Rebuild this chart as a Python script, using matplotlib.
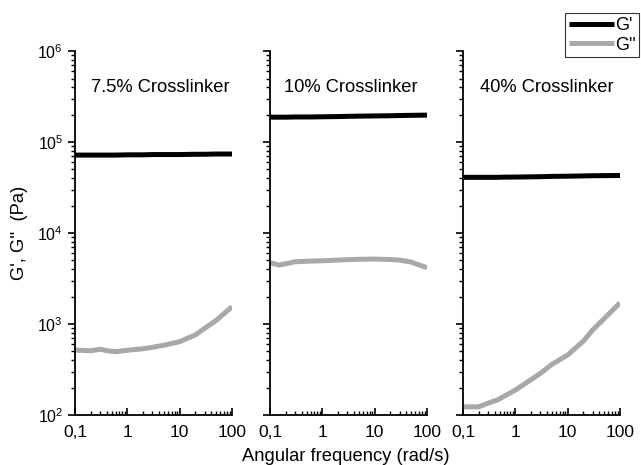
import matplotlib
matplotlib.use("Agg")
import matplotlib.pyplot as plt
from matplotlib.ticker import FixedLocator, FixedFormatter, LogLocator, NullFormatter

plt.rcParams['font.family'] = ['Liberation Sans', 'DejaVu Sans']

# angular frequency (rad/s)
freq = [0.1, 0.15, 0.2, 0.3, 0.45, 0.6, 1, 2, 3, 5, 10, 20, 30, 50, 100]

titles = ["7.5% Crosslinker", "10% Crosslinker", "40% Crosslinker"]

g_storage = [
    [7.2e4, 7.2e4, 7.2e4, 7.2e4, 7.2e4, 7.2e4, 7.25e4, 7.25e4, 7.3e4, 7.3e4, 7.3e4, 7.35e4, 7.35e4, 7.4e4, 7.4e4],
    [1.88e5, 1.88e5, 1.88e5, 1.89e5, 1.89e5, 1.89e5, 1.9e5, 1.91e5, 1.92e5, 1.93e5, 1.94e5, 1.95e5, 1.96e5, 1.97e5, 1.98e5],
    [4.1e4, 4.1e4, 4.1e4, 4.1e4, 4.1e4, 4.12e4, 4.13e4, 4.15e4, 4.17e4, 4.2e4, 4.22e4, 4.25e4, 4.27e4, 4.28e4, 4.3e4],
]

g_loss = [
    [518, 512, 509, 528, 505, 497, 515, 535, 555, 585, 640, 760, 896, 1100, 1550],
    [4720, 4450, 4600, 4840, 4880, 4920, 4960, 5050, 5100, 5150, 5180, 5120, 5050, 4800, 4160],
    [123, 123, 123, 135, 146, 160, 188, 245, 287, 360, 457, 650, 860, 1150, 1710],
]

fig = plt.figure(figsize=(6.41, 4.65), dpi=100)
lefts = [75 / 641, 270 / 641, 463 / 641]
title_x = [0.545, 0.515, 0.535]
axes = []
for i, left in enumerate(lefts):
    ax = fig.add_axes([left, 0.1075, 157 / 641, 0.7825])
    axes.append(ax)
    l1, = ax.plot(freq, g_storage[i], color="black", lw=3.6, solid_capstyle="butt")
    l2, = ax.plot(freq, g_loss[i], color="#a8a8a8", lw=3.6, solid_capstyle="butt")
    ax.set_xscale("log")
    ax.set_yscale("log")
    ax.set_xlim(0.1, 100)
    ax.set_ylim(1e2, 1e6)
    for s in ("top", "right"):
        ax.spines[s].set_visible(False)
    for s in ("left", "bottom"):
        ax.spines[s].set_linewidth(1.3)
    ax.xaxis.set_major_locator(FixedLocator([0.1, 1, 10, 100]))
    ax.xaxis.set_major_formatter(FixedFormatter(["0,1", "1", "10", "100"]))
    ax.xaxis.set_minor_locator(LogLocator(base=10, subs=range(2, 10)))
    ax.xaxis.set_minor_formatter(NullFormatter())
    ax.yaxis.set_minor_locator(LogLocator(base=10, subs=range(2, 10)))
    ax.yaxis.set_minor_formatter(NullFormatter())
    ax.tick_params(axis="x", which="major", direction="in", length=5, width=1.2, labelsize=12.5, pad=7)
    ax.tick_params(axis="x", which="minor", direction="in", length=3, width=1)
    ax.tick_params(axis="y", which="major", direction="out", length=5, width=1.2, labelsize=11.5)
    ax.tick_params(axis="y", which="minor", direction="out", length=3, width=1)
    if i > 0:
        ax.tick_params(axis="y", labelleft=False)
    ax.text(title_x[i], 0.9, titles[i], transform=ax.transAxes, ha="center", va="center", fontsize=13.2)
    ax.patch.set_alpha(0)

axes[0].set_ylabel("G', G''  (Pa)", fontsize=13.2, labelpad=7)
fig.text(346 / 641, 1 - 456 / 465, "Angular frequency (rad/s)", ha="center", va="center", fontsize=13.2)

leg = fig.legend([l1, l2], ["G'", "G''"], loc="upper right", bbox_to_anchor=(1.0, 0.975),
                 fontsize=13, frameon=True, fancybox=False, handlelength=2.5,
                 handletextpad=0.05, borderpad=0.2, labelspacing=0.15, borderaxespad=0.1)
leg.get_frame().set_edgecolor("black")
leg.get_frame().set_linewidth(0.8)

fig.savefig("out.png", dpi=100)
